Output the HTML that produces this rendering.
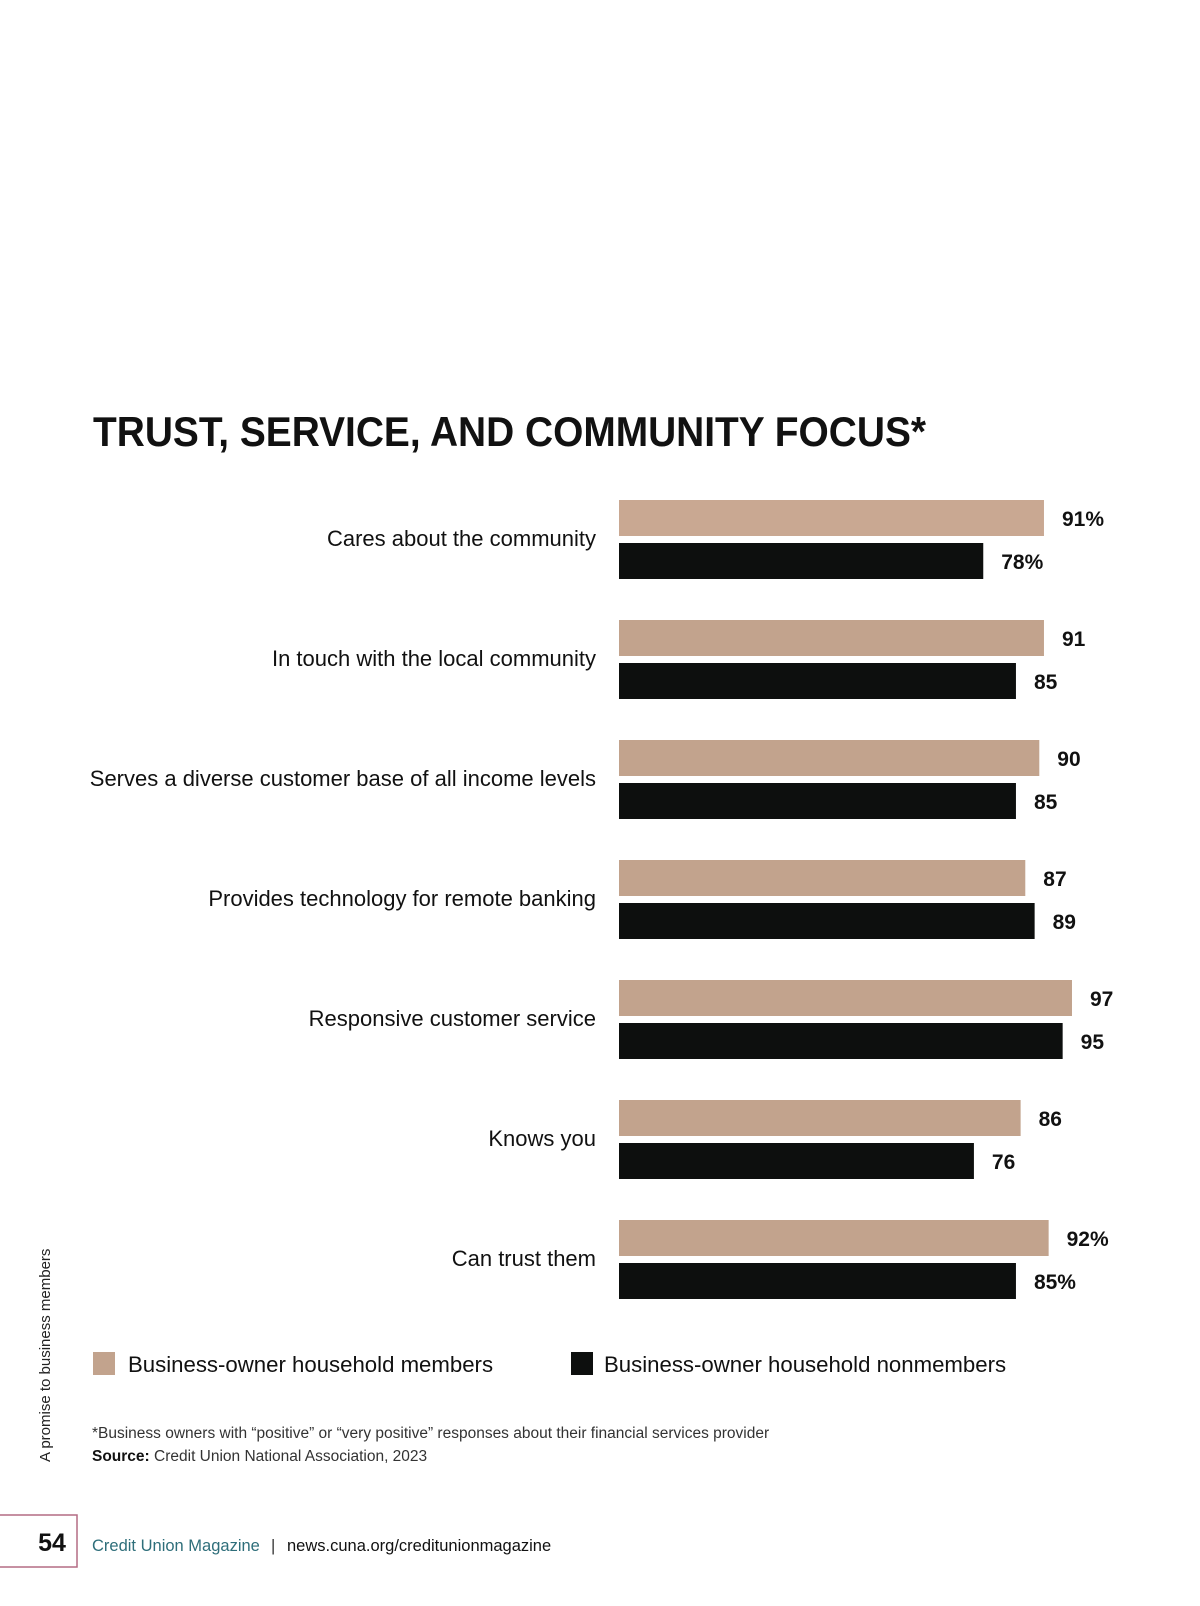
<!DOCTYPE html>
<html><head><meta charset="utf-8"><style>
html,body{margin:0;padding:0;background:#fff;}
svg{display:block;font-family:"Liberation Sans",sans-serif;}
</style></head><body>
<svg id="chart" width="1200" height="1606" viewBox="0 0 1200 1606">
  <text x="93" y="446" font-size="42" font-weight="bold" fill="#111" textLength="833" lengthAdjust="spacingAndGlyphs">TRUST, SERVICE, AND COMMUNITY FOCUS*</text>
  <g id="bars"></g>
  <g>
    <rect x="93" y="1352" width="22" height="23" fill="#c2a38d"/>
    <text x="128" y="1372" font-size="22.2" fill="#111">Business-owner household members</text>
    <rect x="571" y="1352" width="22" height="23" fill="#0d0f0e"/>
    <text x="604" y="1372" font-size="22.2" fill="#111">Business-owner household nonmembers</text>
  </g>
  <text x="92" y="1438" font-size="15.5" fill="#333">*Business owners with “positive” or “very positive” responses about their financial services provider</text>
  <text x="92" y="1461" font-size="15.5" fill="#333"><tspan font-weight="bold" fill="#111">Source:</tspan> Credit Union National Association, 2023</text>
  <text transform="translate(50,1462) rotate(-90)" font-size="15" fill="#222">A promise to business members</text>
  <rect x="-2" y="1515" width="79" height="52" fill="none" stroke="#b46c84" stroke-width="1.5"/>
  <text x="52" y="1551" font-size="25" font-weight="bold" fill="#111" text-anchor="middle">54</text>
  <text x="92" y="1551" font-size="16.5" fill="#2e6e7a">Credit Union Magazine</text>
  <text x="271" y="1551" font-size="16.5" fill="#333">|</text>
  <text x="287" y="1551" font-size="16.5" fill="#111">news.cuna.org/creditunionmagazine</text>
</svg>
<script>
const categories = ["Cares about the community","In touch with the local community","Serves a diverse customer base of all income levels","Provides technology for remote banking","Responsive customer service","Knows you","Can trust them"];
const members = [91, 91, 90, 87, 97, 86, 92];
const nonmembers = [78, 85, 85, 89, 95, 76, 85];
const memberLabels = ["91%","91","90","87","97","86","92%"];
const nonmemberLabels = ["78%","85","85","89","95","76","85%"];

const NS = "http://www.w3.org/2000/svg";
const g = document.getElementById("bars");
const x0 = 619, pxPerUnit = 4.67, top0 = 500, pitch = 120, barH = 36, gap = 43;
function xScale(v){ return v * pxPerUnit; }
function yRow(i){ return top0 + i * pitch; }
function mk(tag, attrs){ const e = document.createElementNS(NS, tag); for (const k in attrs) e.setAttribute(k, attrs[k]); return e; }

categories.forEach((c, i) => {
  const y = yRow(i);
  const lab = mk("text", {x: 596, y: y + 46, "font-size": 22, fill: "#111", "text-anchor": "end"});
  lab.textContent = c;
  
  
  g.appendChild(lab);

  const wm = xScale(members[i]);
  const b1 = mk("rect", {x: x0, y: y, width: wm, height: barH, fill: i === 0 ? "#c9a892" : "#c2a38d"});
  
  
  g.appendChild(b1);
  const t1 = mk("text", {x: x0 + wm + 18, y: y + 26, "font-size": 21, "font-weight": "bold", fill: "#111"});
  t1.textContent = memberLabels[i];
  
  
  g.appendChild(t1);

  const wn = xScale(nonmembers[i]);
  const b2 = mk("rect", {x: x0, y: y + gap, width: wn, height: barH, fill: "#0d0f0e"});
  
  
  g.appendChild(b2);
  const t2 = mk("text", {x: x0 + wn + 18, y: y + gap + 26, "font-size": 21, "font-weight": "bold", fill: "#111"});
  t2.textContent = nonmemberLabels[i];
  
  
  g.appendChild(t2);
});
</script>
</body></html>
